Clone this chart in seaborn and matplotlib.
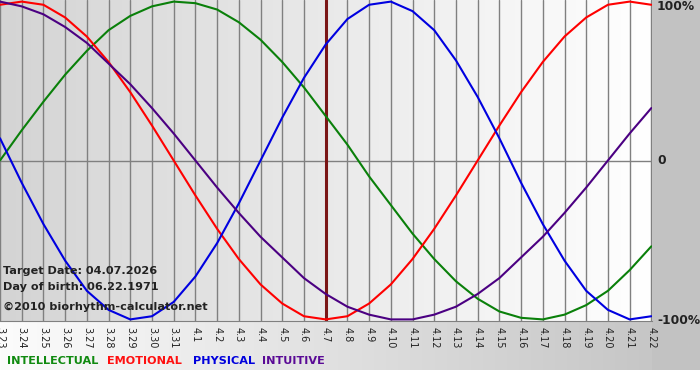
import numpy as np
import pandas as pd
import matplotlib
matplotlib.use('Agg')
import matplotlib.pyplot as plt
import seaborn as sns

# day labels along the bottom (month.day)
days = ['3.23', '3.24', '3.25', '3.26', '3.27', '3.28', '3.29', '3.30', '3.31',
        '4.1', '4.2', '4.3', '4.4', '4.5', '4.6', '4.7', '4.8', '4.9', '4.10',
        '4.11', '4.12', '4.13', '4.14', '4.15', '4.16', '4.17', '4.18', '4.19',
        '4.20', '4.21', '4.22']

# values in percent, one per day
intellectual = [0, 19, 37, 54, 69, 82, 91, 97, 100, 99, 95, 87, 76, 62, 46, 28,
                10, -10, -28, -46, -62, -76, -87, -95, -99, -100, -97, -91,
                -82, -69, -54]
emotional = [98, 100, 98, 90, 78, 62, 43, 22, 0, -22, -43, -62, -78, -90, -98,
             -100, -98, -90, -78, -62, -43, -22, 0, 22, 43, 62, 78, 90, 98,
             100, 98]
physical = [14, -14, -40, -63, -82, -94, -100, -98, -89, -73, -52, -27, 0, 27,
            52, 73, 89, 98, 100, 94, 82, 63, 40, 14, -14, -40, -63, -82, -94,
            -100, -98]
intuitive = [100, 97, 92, 84, 74, 61, 48, 33, 17, 0, -17, -33, -48, -61, -74,
             -84, -92, -97, -100, -100, -97, -92, -84, -74, -61, -48, -33,
             -17, 0, 17, 33]

series_names = ['INTELLECTUAL', 'EMOTIONAL', 'PHYSICAL', 'INTUITIVE']
target_day = '4.7'
target_text = 'Target Date: 04.07.2026'
birth_text = 'Day of birth: 06.22.1971'
site_text = '\u00a92010 biorhythm-calculator.net'

line_colors = {'INTELLECTUAL': '#0a800a', 'EMOTIONAL': '#ff0000',
               'PHYSICAL': '#0000e0', 'INTUITIVE': '#4b0082'}
legend_colors = {'INTELLECTUAL': '#108a10', 'EMOTIONAL': '#ff1010',
                 'PHYSICAL': '#0000dd', 'INTUITIVE': '#5a0a96'}

frames = []
for name, vals in zip(series_names, [intellectual, emotional, physical, intuitive]):
    frames.append(pd.DataFrame({'pos': range(len(days)), 'value': vals, 'series': name}))
df = pd.concat(frames, ignore_index=True)

sns.set_style('white')
plt.rcParams['font.family'] = ['DejaVu Sans']

W, H = 700, 380
fig = plt.figure(figsize=(7, 3.8), dpi=100)
fig.patch.set_facecolor('white')

# background gradients (plot area, right margin, label strip)
px_right, px_bottom, strip_end = 652, 321, 370
bg = np.ones((H, W, 3))
xs = np.linspace(0, 1, px_right)
bg[:px_bottom, :px_right, :] = ((212 + 43 * xs) / 255)[None, :, None]
bg[px_bottom:strip_end, :px_right, :] = ((252 - 54 * xs) / 255)[None, :, None]
bg[:strip_end, px_right:, :] = 194 / 255
ax_bg = fig.add_axes([0, 0, 1, 1])
ax_bg.imshow(bg, extent=[0, W, H, 0], aspect='auto', interpolation='bilinear')
ax_bg.axis('off')

ax = fig.add_axes([0, 1 - px_bottom / H, px_right / W, px_bottom / H])
ax.set_facecolor('none')

sns.lineplot(data=df, x='pos', y='value', hue='series', palette=line_colors,
             hue_order=series_names, estimator=None, sort=False,
             linewidth=1.5, legend=False, ax=ax, zorder=3)

ax.axhline(0, color='#808080', lw=1, zorder=1)
ax.axvline(days.index(target_day), color='#7a1616', lw=2.2, zorder=2)

ax.set_xlim(0, len(days) - 0.97)
ax.set_ylim(-101, 101)
ax.set_xticks(range(len(days)))
ax.set_xticklabels(days, rotation=270, fontsize=7, color='#222222')
ax.set_yticks([])
ax.grid(axis='x', color='#808080', lw=1)
ax.tick_params(axis='x', length=3, color='#808080', pad=1)
ax.set_xlabel('')
ax.set_ylabel('')
for side in ['top', 'left', 'right']:
    ax.spines[side].set_visible(False)
ax.spines['bottom'].set_color('#808080')

# right side percent labels
for label, ypx in [('100%', 7), ('0', 161), ('-100%', 321)]:
    fig.text(657 / W, 1 - ypx / H, label, fontsize=8.8, fontweight='bold',
             color='#222222', ha='left', va='center')

# info text inside plot
for txt, ypx in [(target_text, 271), (birth_text, 287), (site_text, 307)]:
    fig.text(3 / W, 1 - ypx / H, txt, fontsize=8.1, fontweight='bold',
             color='#222222', ha='left', va='center')

# legend words at bottom
for name, xpx in zip(series_names, [7, 107, 193, 262]):
    fig.text(xpx / W, 1 - 361 / H, name, fontsize=8.1, fontweight='bold',
             color=legend_colors[name], ha='left', va='center')

fig.savefig('out.png', dpi=100)
